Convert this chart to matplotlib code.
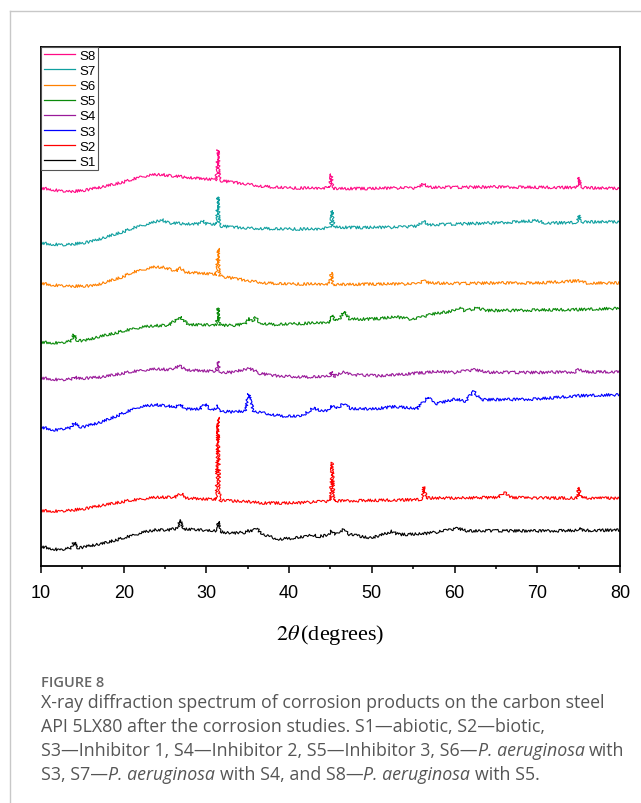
import matplotlib
matplotlib.use("Agg")
import matplotlib.pyplot as plt
from matplotlib.lines import Line2D

plt.rcParams['font.family'] = ['Liberation Sans', 'DejaVu Sans']

# XRD patterns (2theta in degrees, stacked intensity in a.u.)
s1_x = [10, 12.3, 13.6, 14.0, 14.5, 17.3, 20.5, 22.5, 24, 25.5, 26.5, 26.8, 27.2, 29, 31.1, 31.4, 31.7,
        33, 34.7, 35.1, 35.5, 36.0, 36.8, 38.6, 40, 42, 42.9, 43.5, 44.8, 45.1, 45.6, 46.5, 47.3, 50,
        52.4, 53.2, 56, 58, 60.4, 61.5, 65, 70, 74.6, 75.0, 75.5, 80]
s1_y = [193, 160, 180, 237, 180, 220, 293, 340, 363, 360, 380, 463, 370, 360, 350, 447, 340,
        330, 335, 353, 345, 377, 320, 270, 275, 295, 310, 295, 310, 353, 320, 360, 315, 280,
        347, 315, 320, 340, 377, 350, 353, 350, 355, 377, 355, 360]

s2_x = [10, 12.5, 15, 17.3, 20.5, 24, 26.3, 27.0, 27.6, 29.5, 31.2, 31.4, 31.6, 34, 37, 41, 45.0,
        45.2, 45.4, 48, 53, 56.0, 56.3, 56.6, 60, 65.3, 66.0, 66.7, 70, 74.8, 75.0, 75.3, 80]
s2_y = [553, 547, 570, 603, 653, 687, 690, 727, 680, 670, 665, 1487, 655, 650, 630, 630, 650,
        1037, 650, 653, 660, 665, 793, 680, 680, 685, 737, 685, 680, 680, 787, 680, 677]

s3_x = [10, 11.7, 13.5, 14.0, 14.9, 17.3, 19.7, 21.7, 23.8, 25.5, 26.0, 26.8, 27.5, 29.2, 29.8,
        30.5, 31.1, 31.4, 31.8, 33, 34.7, 35.1, 35.7, 37, 39, 41.5, 42.9, 43.8, 44.8, 45.1, 45.7,
        46.5, 47.5, 50, 53, 55.4, 56.8, 57.6, 60.2, 61.3, 62.3, 63.2, 67, 70, 73, 75, 80]
s3_y = [1387, 1360, 1380, 1427, 1387, 1437, 1520, 1587, 1613, 1600, 1580, 1620, 1570, 1570, 1620,
        1560, 1570, 1603, 1550, 1540, 1550, 1720, 1550, 1530, 1500, 1497, 1580, 1550, 1560, 1603, 1570,
        1620, 1575, 1570, 1595, 1570, 1687, 1620, 1670, 1645, 1747, 1663, 1665, 1670, 1690, 1703, 1713]

s4_x = [10, 12.5, 13.7, 14.0, 14.5, 17.3, 20.5, 22, 24, 25.5, 26.8, 27.8, 30, 31.2, 31.4, 31.6,
        33, 35.2, 36.5, 38, 42, 44.9, 45.1, 45.4, 46.6, 48, 51, 54, 57.7, 60, 62.4, 64, 70, 74.5,
        75.0, 76, 80]
s4_y = [1880, 1860, 1870, 1893, 1875, 1887, 1937, 1955, 1970, 1965, 1997, 1960, 1950, 1945, 2047, 1940,
        1935, 1977, 1925, 1905, 1890, 1895, 1947, 1895, 1940, 1910, 1903, 1920, 1943, 1935, 1963, 1937,
        1935, 1940, 1963, 1940, 1943]

s5_x = [10, 12.5, 13.6, 14.0, 14.4, 15.3, 17, 19.3, 21, 22.6, 23.8, 25.5, 26.8, 27.8, 29.5, 31.2,
        31.4, 31.6, 33, 34.7, 35.2, 35.6, 35.9, 36.5, 38, 40, 43, 45.0, 45.2, 45.5, 46.0, 46.6, 47.3,
        50, 53, 55, 57.3, 59.5, 60.5, 61.3, 62.6, 64, 67, 70, 75, 80]
s5_y = [2237, 2230, 2250, 2313, 2255, 2253, 2290, 2337, 2370, 2393, 2403, 2410, 2493, 2415, 2410, 2410,
        2580, 2410, 2405, 2420, 2480, 2450, 2490, 2430, 2415, 2420, 2430, 2440, 2510, 2450, 2460, 2547, 2470,
        2470, 2490, 2465, 2520, 2545, 2580, 2550, 2580, 2555, 2555, 2560, 2565, 2577]

s6_x = [10, 11.5, 13.3, 16.5, 18, 19.7, 21, 22.6, 23.8, 25, 26.3, 26.9, 27.5, 29, 31.2, 31.4,
        31.6, 33, 35, 37.3, 40, 44.9, 45.1, 45.3, 50, 55.5, 56.2, 57, 60, 65, 70, 75, 76, 80]
s6_y = [2827, 2810, 2797, 2803, 2840, 2887, 2935, 2970, 2990, 2985, 2950, 2980, 2940, 2930, 2915, 3177,
        2900, 2880, 2855, 2830, 2820, 2820, 2937, 2815, 2820, 2820, 2853, 2830, 2825, 2830, 2830, 2853,
        2830, 2830]

s7_x = [10, 11, 12.9, 15, 16.5, 18, 19.7, 21.5, 23.4, 24.6, 25.5, 27, 29.0, 29.5, 30, 31.2, 31.4,
        31.6, 33, 35, 39.2, 43, 45.0, 45.2, 45.4, 48, 53, 55.5, 56.2, 57, 60, 65, 69.9, 71, 74.8,
        75.0, 75.3, 80]
s7_y = [3230, 3220, 3210, 3230, 3253, 3290, 3337, 3390, 3430, 3463, 3430, 3425, 3420, 3453, 3420, 3415, 3690,
        3400, 3390, 3380, 3370, 3370, 3380, 3553, 3390, 3385, 3387, 3400, 3447, 3410, 3420, 3430, 3453,
        3430, 3435, 3510, 3440, 3443]

s8_x = [10, 11, 12, 13.3, 15, 17.3, 19, 20.5, 22, 23.4, 24.5, 26, 28, 30, 31.2, 31.4, 31.6, 32,
        35, 37, 40, 44.9, 45.1, 45.3, 50, 53, 55.5, 56.2, 57, 60, 65, 70, 74.8, 75.0, 75.3, 77, 80]
s8_y = [3777, 3770, 3755, 3743, 3755, 3787, 3820, 3853, 3890, 3910, 3915, 3900, 3885, 3870, 3860, 4160,
        3855, 3850, 3820, 3795, 3780, 3780, 3920, 3775, 3775, 3780, 3780, 3820, 3787, 3787, 3790, 3787,
        3785, 3887, 3785, 3780, 3777]

labels = ['S1', 'S2', 'S3', 'S4', 'S5', 'S6', 'S7', 'S8']
colors = ['#000000', '#FF0000', '#0000FF', '#9A1A9A', '#0A8A0A', '#FF8000', '#10A0A0', '#FF0A85']
xs = [s1_x, s2_x, s3_x, s4_x, s5_x, s6_x, s7_x, s8_x]
ys = [s1_y, s2_y, s3_y, s4_y, s5_y, s6_y, s7_y, s8_y]

W, H = 641, 804
fig = plt.figure(figsize=(W / 100, H / 100), dpi=100)
ax = fig.add_axes([41 / W, 1 - 567 / H, 579 / W, 519 / H])

lines = []
for x, y, c, lab in zip(xs, ys, colors, labels):
    ln, = ax.plot(x, y, color=c, lw=0.8, label=lab)
    # detector noise look
    ln.set_sketch_params(scale=1.4, length=1.2, randomness=3)
    lines.append(ln)

ax.set_xlim(10, 80)
ax.set_ylim(0, 5190)
ax.set_xticks(range(10, 81, 10))
ax.set_xticks(range(15, 80, 10), minor=True)
ax.set_yticks([])
ax.tick_params(axis='x', which='major', direction='out', length=5, width=1.1,
               labelsize=13, pad=8, top=False)
ax.tick_params(axis='x', which='minor', direction='out', length=2.5, width=1.1, top=False)
for sp in ax.spines.values():
    sp.set_linewidth(1.3)

ax.set_xlabel(r'$2\theta\,$(degrees)', fontsize=16, family='Liberation Serif',
              math_fontfamily='stix', labelpad=15)

leg = ax.legend(lines[::-1], labels[::-1], loc='upper left', bbox_to_anchor=(0, 1),
                borderaxespad=0, fontsize=9.5, frameon=True, fancybox=False,
                edgecolor='#555555', framealpha=1, handlelength=2.4, handletextpad=0.3,
                labelspacing=0.22, borderpad=0.2)
leg.get_frame().set_linewidth(0.8)
for h in leg.get_lines():
    h.set_sketch_params(None)
    h.set_linewidth(0.9)

# page frame
fig.add_artist(Line2D([10 / W, 10 / W], [0, 1 - 12 / H], transform=fig.transFigure,
                      color='#c8c8c8', lw=1))
fig.add_artist(Line2D([10 / W, 1], [1 - 12 / H, 1 - 12 / H], transform=fig.transFigure,
                      color='#c8c8c8', lw=1))

# caption
cap_font = ['Open Sans', 'DejaVu Sans']
cap_size = 12.8
fig.text(41 / W, 1 - 683 / H, 'FIGURE 8', fontsize=10.5, family=cap_font, weight='semibold',
         color='#666666', va='center')

renderer = fig.canvas.get_renderer()
probe1 = fig.text(0, 0, 'a a', fontsize=cap_size, family=cap_font)
probe2 = fig.text(0, 0, 'aa', fontsize=cap_size, family=cap_font)
space_w = (probe1.get_window_extent(renderer).width - probe2.get_window_extent(renderer).width)
probe1.remove()
probe2.remove()

pa = 'P. aeruginosa'
caption = [
    [('X-ray diffraction spectrum of corrosion products on the carbon steel', 'normal')],
    [('API 5LX80 after the corrosion studies. S1\u2014abiotic, S2\u2014biotic,', 'normal')],
    [('S3\u2014Inhibitor 1, S4\u2014Inhibitor 2, S5\u2014Inhibitor 3, S6\u2014', 'normal'),
     (pa, 'italic'), (' with', 'normal')],
    [('S3, S7\u2014', 'normal'), (pa, 'italic'), (' with S4, and S8\u2014', 'normal'),
     (pa, 'italic'), (' with S5.', 'normal')],
]
for i, runs in enumerate(caption):
    xpix = 41.0
    y = 1 - (703 + 24 * i) / H
    for txt, style in runs:
        xpix += (len(txt) - len(txt.lstrip(' '))) * space_w
        t = fig.text(xpix / W, y, txt.strip(), fontsize=cap_size, family=cap_font,
                     style=style, color='#555555', va='center')
        xpix = t.get_window_extent(renderer).x1 + (len(txt) - len(txt.rstrip(' '))) * space_w

fig.savefig('out.png', dpi=100)
